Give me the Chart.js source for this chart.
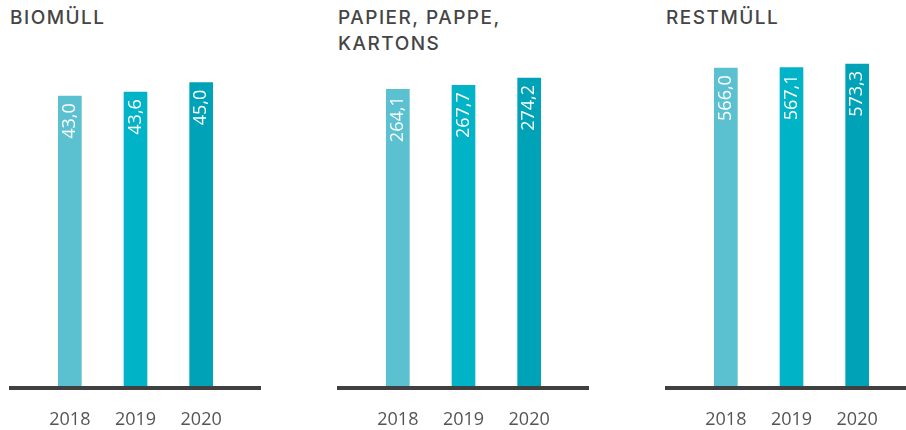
<!DOCTYPE html>
<html lang="de">
<head>
<meta charset="utf-8">
<title>Abfallmengen 2018–2020</title>
<script src="https://cdn.jsdelivr.net/npm/chart.js@4/dist/chart.umd.min.js"></script>
<style>
  html, body { margin: 0; padding: 0; background: #fff; }
  body { width: 906px; height: 430px; position: relative; overflow: hidden; }
  .panel { position: absolute; top: 0; width: 252px; height: 430px; }
  .panel canvas { position: absolute; left: 0; top: 0; }
  .panel h2 {
    position: absolute; left: 1px; top: 5px; margin: 0;
    font: 500 19px/26px Inter, "Open Sans", sans-serif;
    letter-spacing: 1.5px; color: #454545; white-space: nowrap;
  }
</style>
</head>
<body>
  <div class="panel" style="left:9px"><h2 id="title-bio"></h2><canvas id="chartBio" width="252" height="430"></canvas></div>
  <div class="panel" style="left:337px"><h2 id="title-paper"></h2><canvas id="chartPaper" width="252" height="430"></canvas></div>
  <div class="panel" style="left:665px"><h2 id="title-rest"></h2><canvas id="chartRest" width="252" height="430"></canvas></div>

<script>
const years = ['2018', '2019', '2020'];
const bioValues = [43.0, 43.6, 45.0];
const paperValues = [264.1, 267.7, 274.2];
const restValues = [566.0, 567.1, 573.3];
const barColors = ['#5bc1d1', '#00b3c7', '#00a2b8'];

const fmt = v => v.toFixed(1).replace('.', ',');

// thick baseline at zero, running the full width of each panel
const baseLine = {
  id: 'baseLine',
  beforeDatasetsDraw(chart) {
    const ctx = chart.ctx;
    const y0 = chart.scales.y.getPixelForValue(0);
    ctx.save();
    ctx.fillStyle = '#404040';
    ctx.fillRect(0, y0, chart.width, 4);
    ctx.restore();
  }
};

// white values written upwards inside the top of each bar
const valueLabels = {
  id: 'valueLabels',
  afterDatasetsDraw(chart) {
    const ctx = chart.ctx;
    const values = chart.data.datasets[0].data;
    ctx.save();
    ctx.fillStyle = '#ffffff';
    ctx.font = '18px "Open Sans", sans-serif';
    ctx.textAlign = 'right';
    ctx.textBaseline = 'middle';
    chart.getDatasetMeta(0).data.forEach((bar, i) => {
      ctx.save();
      ctx.translate(bar.x, bar.y + 7);
      ctx.rotate(-Math.PI / 2);
      ctx.fillText(fmt(values[i]), 0, 0);
      ctx.restore();
    });
    ctx.restore();
  }
};

function makeChart(canvasId, titleId, titleLines, values, max) {
  document.getElementById(titleId).innerHTML = titleLines.join('<br>');
  return new Chart(document.getElementById(canvasId), {
    type: 'bar',
    data: {
      labels: years,
      datasets: [{
        data: values,
        backgroundColor: barColors,
        borderWidth: 0,
        barThickness: 23
      }]
    },
    options: {
      responsive: false,
      animation: false,
      layout: { padding: { top: 49, left: 28, right: 27, bottom: 1 } },
      plugins: { legend: { display: false }, tooltip: { enabled: false } },
      scales: {
        y: { display: false, min: 0, max: max },
        x: {
          grid: { display: false, drawTicks: false },
          border: { display: false },
          ticks: {
            color: '#555555',
            padding: 25,
            font: { family: '"Open Sans", sans-serif', size: 18, lineHeight: 1 }
          },
          // keep the axis strip to padding + one text line
          afterFit(scale) { scale.height = 43; }
        }
      }
    },
    plugins: [baseLine, valueLabels]
  });
}

makeChart('chartBio', 'title-bio', ['BIOMÜLL'], bioValues, 50);
makeChart('chartPaper', 'title-paper', ['PAPIER, PAPPE,', 'KARTONS'], paperValues, 300);
makeChart('chartRest', 'title-rest', ['RESTMÜLL'], restValues, 600);
</script>
</body>
</html>
